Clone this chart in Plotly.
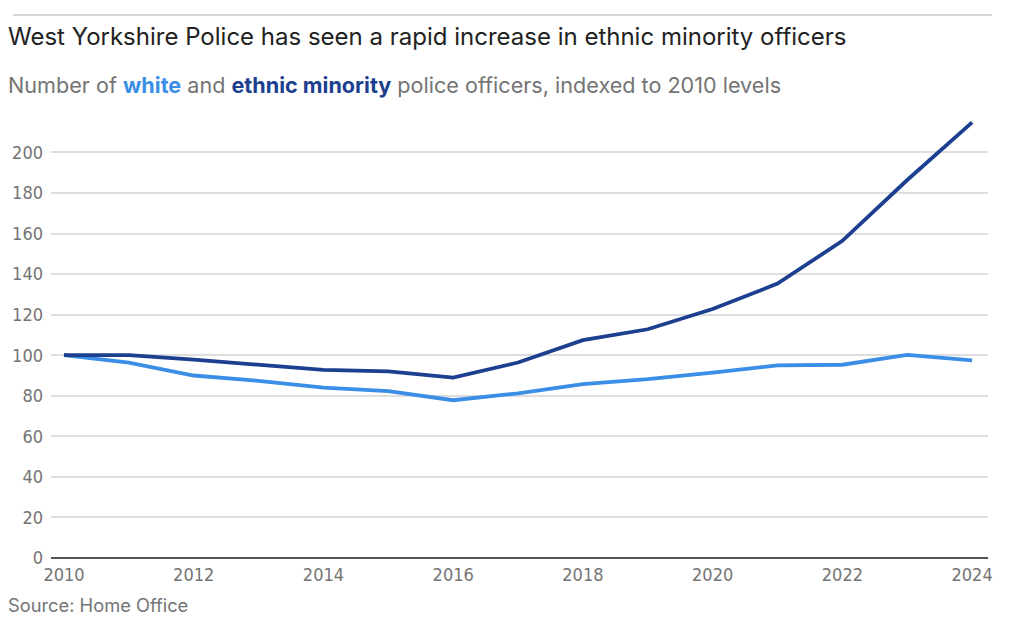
import plotly.graph_objects as go

# Daten (indexiert auf 2010 = 100)
years = list(range(2010, 2025))
white = [100, 96.4, 90, 87.4, 84, 82.3, 77.8, 81.2, 85.8, 88.2, 91.4, 95, 95.3, 100.2, 97.5]
ethnic_minority = [100, 100, 97.8, 95.5, 92.8, 92, 89, 96.4, 107.4, 112.8, 122.8, 135.3, 156.4, 186.4, 214.8]

x_ticks = [2010, 2012, 2014, 2016, 2018, 2020, 2022, 2024]
y_ticks = [0, 20, 40, 60, 80, 100, 120, 140, 160, 180, 200]

LIGHT = "#3b8ee6"
DARK = "#1c3f8f"
GREY = "#747474"
TICK_FONT = "DejaVu Sans Condensed, Roboto, sans-serif"
TEXT_X = -0.0475  # linker Rand der Texte (ca. 8px)

fig = go.Figure()

fig.add_trace(go.Scatter(
    x=years, y=white, name="White",
    mode="lines", line=dict(color=LIGHT, width=3.8)
))
fig.add_trace(go.Scatter(
    x=years, y=ethnic_minority, name="Ethnic minority",
    mode="lines", line=dict(color=DARK, width=3.8)
))

fig.update_layout(
    width=1024, height=622,
    paper_bgcolor="white", plot_bgcolor="white",
    margin=dict(l=44, r=36, t=120, b=64),
    showlegend=False,
    font=dict(family="Inter, Roboto, sans-serif", color=GREY),
    xaxis=dict(
        range=[2009.8, 2024.245],
        tickvals=x_ticks,
        ticktext=[str(v) for v in x_ticks],
        showgrid=False, zeroline=False,
        showline=False,
        ticks="", ticklabelstandoff=4,
        tickfont=dict(family=TICK_FONT, size=18, color=GREY),
    ),
    yaxis=dict(
        range=[0, 216],
        tickvals=y_ticks,
        showgrid=True, gridcolor="#dedede", gridwidth=1.5,
        zeroline=True, zerolinecolor="#555555", zerolinewidth=2,
        ticks="", ticklabelstandoff=7,
        tickfont=dict(family=TICK_FONT, size=18, color=GREY),
    ),
)

# Linie oben
fig.add_shape(
    type="line", xref="paper", yref="paper",
    x0=-0.0403, x1=1.0042, y0=1.2397, y1=1.2397,
    line=dict(color="#c8c8c8", width=1.5)
)

# Titel
fig.add_annotation(
    xref="paper", yref="paper", x=TEXT_X, y=1.1895,
    xanchor="left", yanchor="middle", showarrow=False,
    text="West Yorkshire Police has seen a rapid increase in ethnic minority officers",
    font=dict(family="Inter", size=24, color="#222222")
)

# Untertitel mit farbigen Wörtern
fig.add_annotation(
    xref="paper", yref="paper", x=TEXT_X, y=1.0799,
    xanchor="left", yanchor="middle", showarrow=False,
    text=("Number of <b><span style='color:" + LIGHT + "'>white</span></b> and "
          "<b><span style='color:" + DARK + "'>ethnic minority</span></b> "
          "police officers, indexed to 2010 levels"),
    font=dict(family="Inter", size=21.6, color=GREY)
)

# Quelle
fig.add_annotation(
    xref="paper", yref="paper", x=TEXT_X, y=-0.1073,
    xanchor="left", yanchor="middle", showarrow=False,
    text="Source: Home Office",
    font=dict(family="Inter", size=18.3, color=GREY)
)

# Seitenrand entfernen, sonst ist alles um 8px verschoben
fig.write_html("out.html", config={"displayModeBar": False},
               post_script="document.body.style.margin='0';")
